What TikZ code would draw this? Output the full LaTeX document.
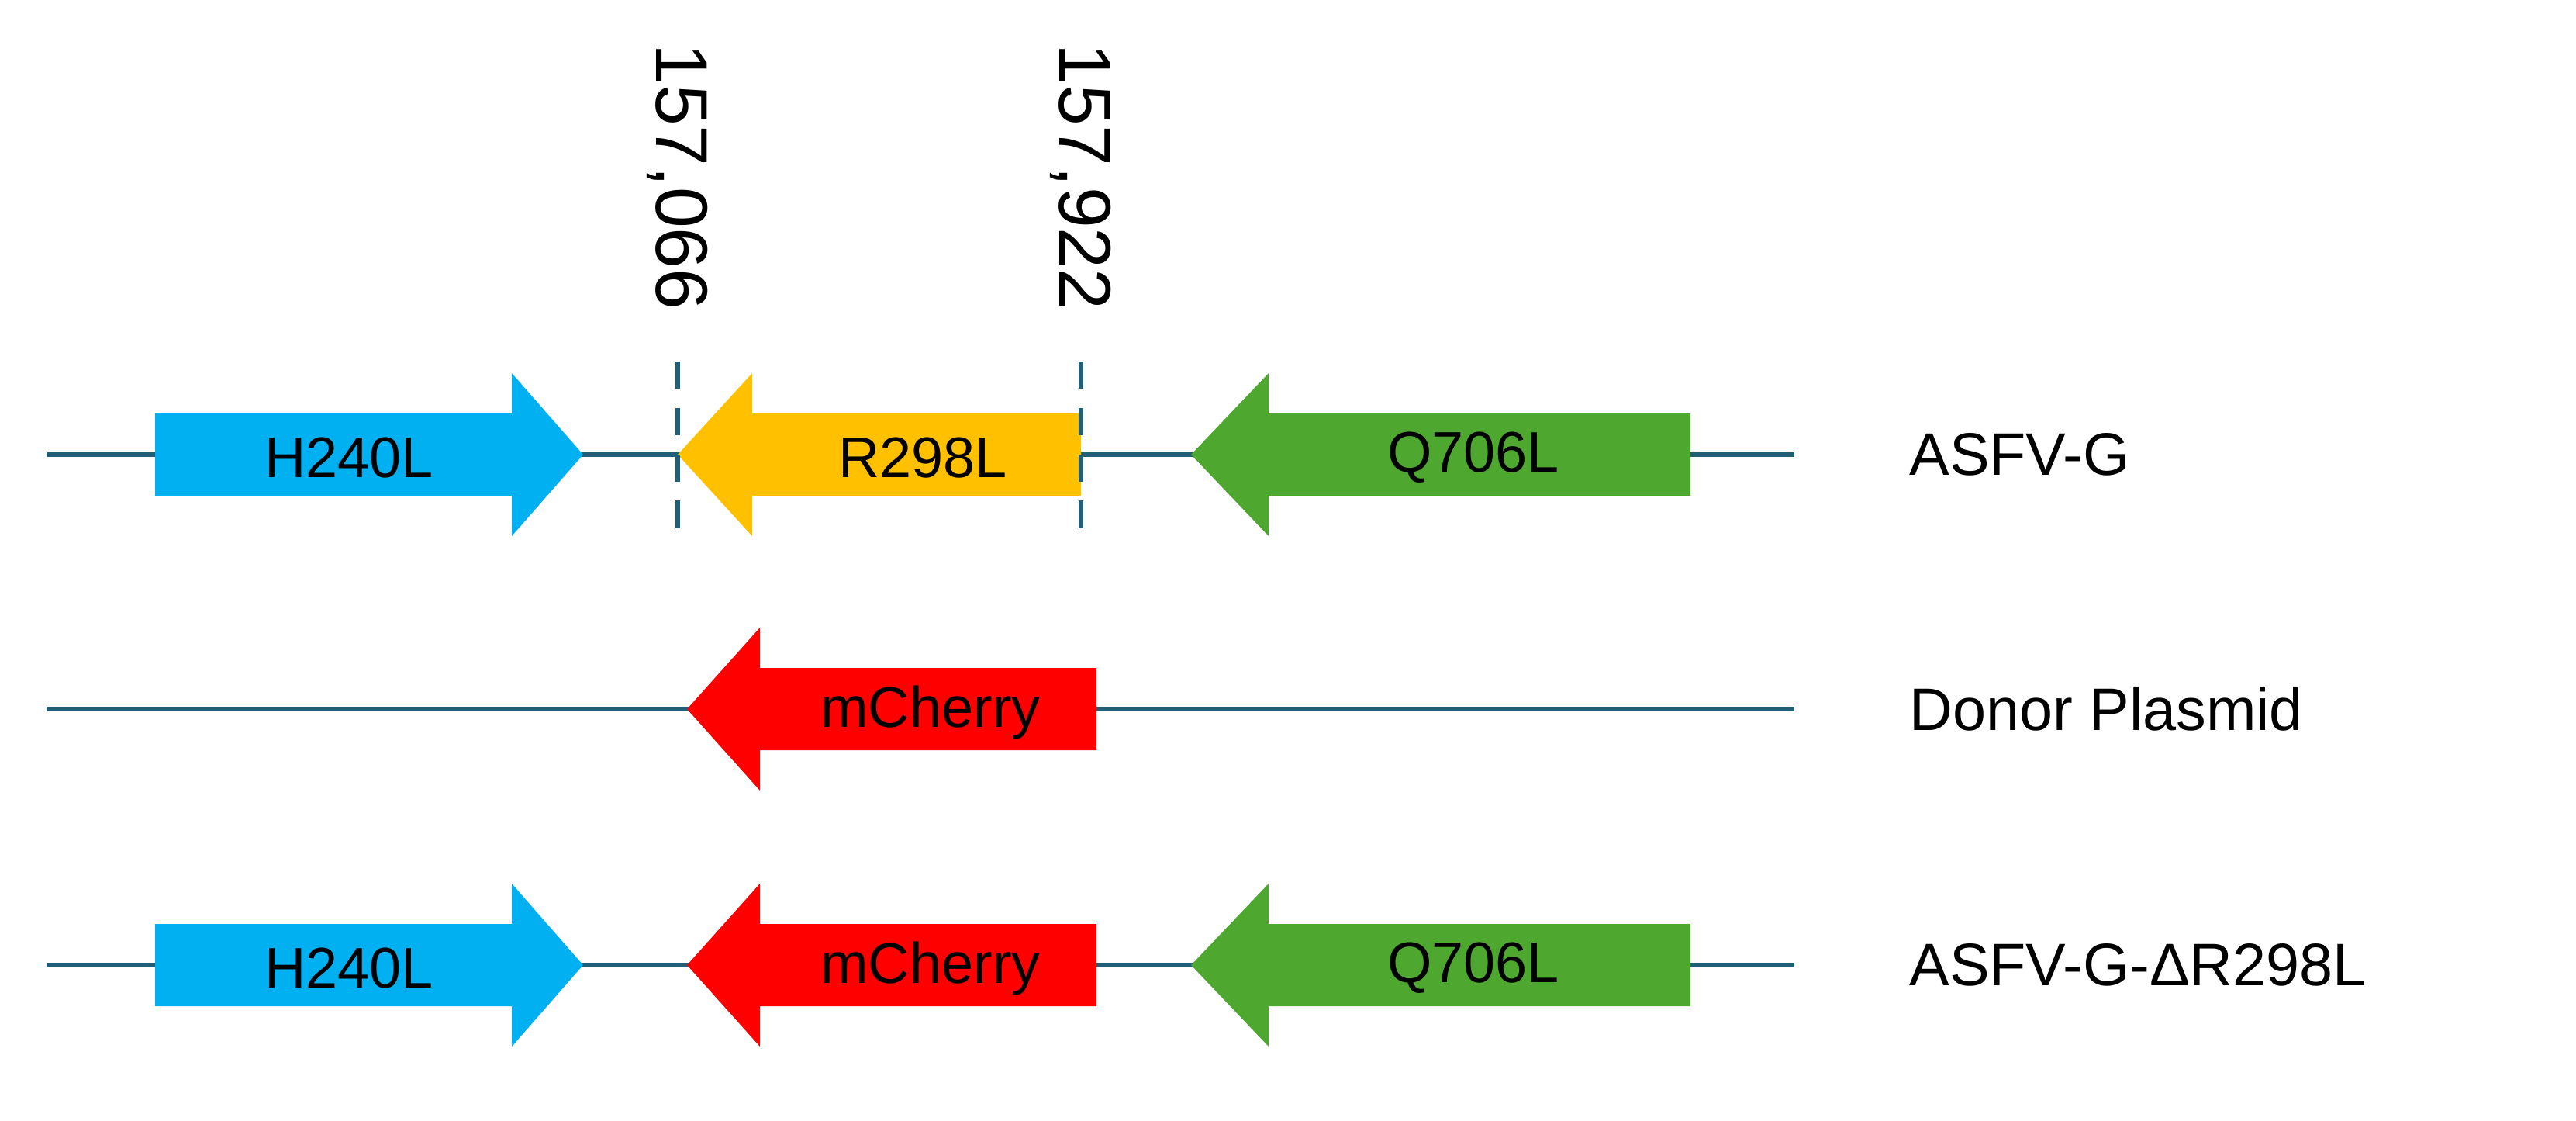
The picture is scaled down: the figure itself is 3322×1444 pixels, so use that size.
\documentclass[tikz,border=0pt]{standalone}
\usepackage{fontspec}
\setmainfont{Liberation Sans}
\definecolor{cblue}{HTML}{00B0F0}
\definecolor{cyel}{HTML}{FFC000}
\definecolor{cgreen}{HTML}{4EA72E}
\definecolor{cred}{HTML}{FF0000}
\definecolor{cline}{HTML}{1F5F78}
\begin{document}
\begin{tikzpicture}[x=0.01cm,y=-0.01cm,
  dna/.style={draw=cline,line width=1.8pt},
  cut/.style={draw=cline,line width=1.6pt,dash pattern=on 10pt off 7pt},
  lab/.style={font=\fontsize{21}{25}\selectfont},
  side/.style={font=\fontsize{22}{26}\selectfont,anchor=west},
  num/.style={font=\fontsize{27}{32}\selectfont,rotate=-90}]
\useasboundingbox (0,0) rectangle (3322,1444);
\newcommand{\genearrow}[5]{% color, tail x, headbase x, tip x, y
  \fill[#1] (#2,#5-53) -- (#3,#5-53) -- (#3,#5-105) -- (#4,#5) -- (#3,#5+105) -- (#3,#5+53) -- (#2,#5+53) -- cycle;}
% row 1
\coordinate (a1) at (60,586); \coordinate (b1) at (2314,586);
\draw[dna] (a1) -- (b1);
\genearrow{cblue}{200}{660}{752}{586}
\genearrow{cyel}{1394}{970}{874}{586}
\genearrow{cgreen}{2180}{1636}{1536}{586}
\node[lab] (h1) at (450,590) {H240L};
\node[lab] (r1) at (1190,590) {R298L};
\node[lab] (q1) at (1900,590) {Q706L};
\coordinate (d1t) at (874,466); \coordinate (d1b) at (874,700);
\coordinate (d2t) at (1394,466); \coordinate (d2b) at (1394,700);
\draw[cut] (d1t) -- (d1b);
\draw[cut] (d2t) -- (d2b);
\node[num] (n1) at (874,228) {157,066};
\node[num] (n2) at (1394,228) {157,922};
\node[side] (s1) at (2450,586) {ASFV-G};
% row 2
\coordinate (a2) at (60,914); \coordinate (b2) at (2314,914);
\draw[dna] (a2) -- (b2);
\genearrow{cred}{1414}{980}{886}{914}
\node[lab] (m2) at (1200,918) {mCherry};
\node[side] (s2) at (2450,914) {Donor Plasmid};
% row 3
\coordinate (a3) at (60,1244); \coordinate (b3) at (2314,1244);
\draw[dna] (a3) -- (b3);
\genearrow{cblue}{200}{660}{752}{1244}
\genearrow{cred}{1414}{980}{886}{1244}
\genearrow{cgreen}{2180}{1636}{1536}{1244}
\node[lab] (h3) at (450,1248) {H240L};
\node[lab] (m3) at (1200,1248) {mCherry};
\node[lab] (q3) at (1900,1248) {Q706L};
\node[side] (s3) at (2450,1244) {ASFV-G-ΔR298L};
\end{tikzpicture}
\end{document}
